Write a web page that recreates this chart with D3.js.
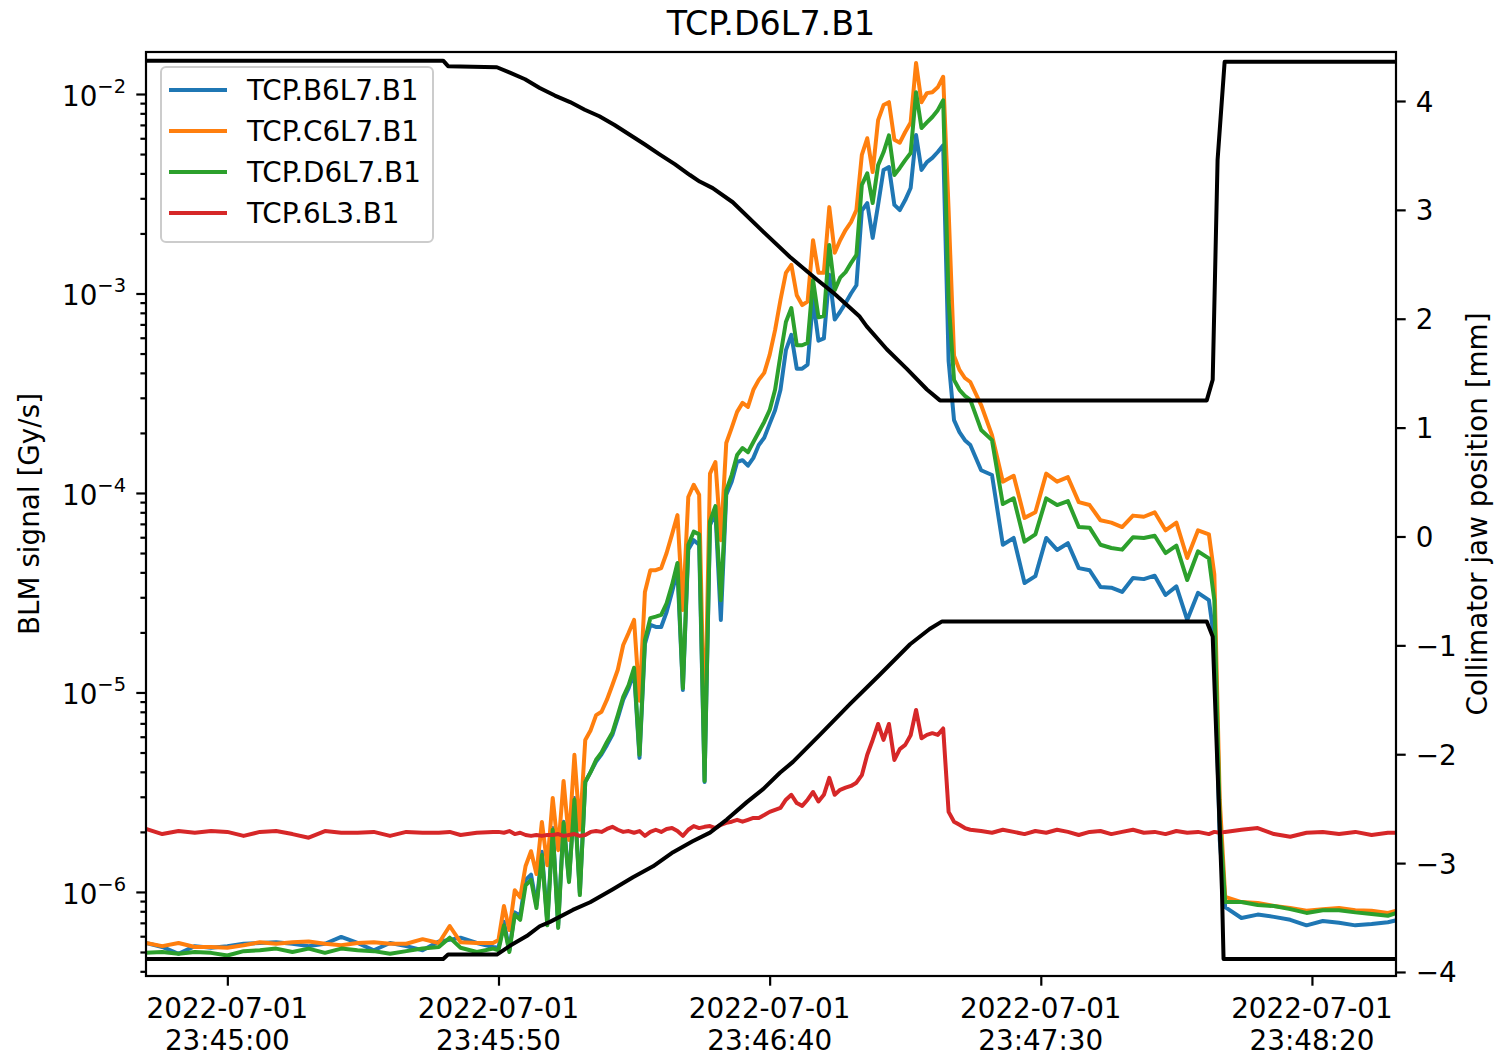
<!DOCTYPE html>
<html>
<head>
<meta charset="utf-8">
<script src="https://cdn.jsdelivr.net/npm/d3@7"></script>
<style>
  body { margin: 0; background: #fff; }
  svg text { font-family: "DejaVu Sans", sans-serif; fill: #000; }
</style>
</head>
<body>
<svg id="chart" width="1496" height="1057"></svg>
<script>
// ---- data ----
const chartTitle = 'TCP.D6L7.B1';
const day = '2022-07-01';
const startClock = '23:44:45';
const endSecond = 230.5;
const xTickClocks = ['23:45:00', '23:45:50', '23:46:40', '23:47:30', '23:48:20'];
const leftTicks = [1e-6, 1e-5, 1e-4, 1e-3, 1e-2];
const rightTicks = [-4, -3, -2, -1, 0, 1, 2, 3, 4];
const seriesNames = ['TCP.B6L7.B1', 'TCP.C6L7.B1', 'TCP.D6L7.B1', 'TCP.6L3.B1'];

// seconds after 23:44:45
const blmSeconds = [
  0, 3, 6, 9, 12, 15, 18, 21, 24, 27, 30, 33, 36, 39, 42, 45, 48, 51, 54, 56, 58, 61, 64,
  65, 66, 67, 68, 69, 70, 71, 72, 73, 74, 75, 76, 77, 78, 79, 80, 81, 82, 83, 84, 85, 86, 87, 88, 89, 90,
  91, 92, 93, 94, 95, 96, 97, 98, 99, 100, 101, 102, 103, 104, 105, 106, 107, 108, 109, 110,
  111, 112, 113, 114, 115, 116, 117, 118, 119, 120, 121, 122, 123, 124, 125, 126, 127, 128, 129, 130,
  131, 132, 133, 134, 135, 136, 137, 138, 139, 140, 141, 142, 143, 144, 145, 146, 147, 148, 149, 150, 151, 152,
  154, 156, 158, 160, 162, 164, 166, 168, 170, 172, 174, 176, 178, 180, 182, 184, 186, 188, 190, 192, 194, 196,
  197, 198, 199, 202, 205, 208, 211, 214, 217, 220, 223, 226, 229, 231
];

const blmB6L7 = [
  5.55e-7, 5.3e-7, 4.9e-7, 5.35e-7, 5.25e-7, 5.35e-7, 5.5e-7, 5.55e-7, 5.6e-7, 5.5e-7, 5.35e-7, 5.5e-7,
  5.95e-7, 5.55e-7, 5.1e-7, 5.55e-7, 5.35e-7, 5.1e-7, 5.65e-7, 5.75e-7, 5.9e-7, 5.55e-7, 5.3e-7,
  5.25e-7, 7.1e-7, 5.1e-7, 7.9e-7, 7.6e-7, 1.15e-6, 1.22e-6, 8.6e-7, 1.59e-6, 7.1e-7, 2.09e-6, 6.8e-7,
  2.25e-6, 1.15e-6, 2.96e-6, 9.9e-7, 3.56e-6, 4.0e-6, 4.5e-6, 4.9e-6, 5.46e-6, 6.13e-6, 7.45e-6, 9.2e-6,
  1.05e-5, 1.27e-5, 4.7e-6, 1.75e-5, 2.18e-5, 2.13e-5, 2.13e-5, 2.53e-5, 3.19e-5, 4.07e-5, 1.03e-5,
  5.2e-5, 5.8e-5, 5.5e-5, 3.56e-6, 6.9e-5, 8.0e-5, 2.31e-5, 9.8e-5, 1.14e-4, 1.43e-4, 1.46e-4,
  1.37e-4, 1.5e-4, 1.74e-4, 1.89e-4, 2.22e-4, 2.6e-4, 3.29e-4, 5.2e-4, 6.2e-4, 4.2e-4, 4.2e-4, 4.4e-4,
  9.3e-4, 5.8e-4, 5.95e-4, 1.24e-3, 7.4e-4, 8.1e-4, 8.95e-4, 1.0e-3, 1.1e-3, 2.6e-3, 2.84e-3, 1.9e-3,
  2.78e-3, 4.16e-3, 4.3e-3, 2.78e-3, 2.62e-3, 2.94e-3, 3.38e-3, 6.23e-3, 4.16e-3, 4.56e-3, 4.78e-3,
  5.12e-3, 5.53e-3, 4.6e-4, 2.32e-4, 2.02e-4, 1.84e-4, 1.74e-4,
  1.3e-4, 1.23e-4, 5.5e-5, 5.95e-5, 3.54e-5, 3.83e-5, 5.95e-5, 5.18e-5, 5.6e-5, 4.2e-5, 4.1e-5,
  3.38e-5, 3.35e-5, 3.19e-5, 3.75e-5, 3.7e-5, 3.85e-5, 3.08e-5, 3.4e-5, 2.31e-5, 3.16e-5, 2.9e-5,
  1.83e-5, 1.82e-6, 8.4e-7, 7.4e-7, 7.7e-7, 7.5e-7, 7.25e-7, 6.8e-7, 7.15e-7, 7.0e-7, 6.8e-7, 6.9e-7, 7.05e-7, 7.25e-7
];

const blmC6L7 = [
  5.55e-7, 5.35e-7, 5.55e-7, 5.3e-7, 5.3e-7, 5.25e-7, 5.4e-7, 5.6e-7, 5.5e-7, 5.6e-7, 5.65e-7, 5.5e-7,
  5.4e-7, 5.55e-7, 5.6e-7, 5.5e-7, 5.5e-7, 5.8e-7, 5.55e-7, 6.75e-7, 5.6e-7, 5.55e-7, 5.55e-7,
  5.75e-7, 8.5e-7, 6.45e-7, 1.02e-6, 9.4e-7, 1.35e-6, 1.6e-6, 1.23e-6, 2.24e-6, 1.36e-6, 2.96e-6, 1.62e-6,
  3.6e-6, 1.82e-6, 4.87e-6, 2.05e-6, 5.78e-6, 6.47e-6, 7.7e-6, 8.0e-6, 9.2e-6, 1.09e-5, 1.3e-5, 1.73e-5,
  1.99e-5, 2.31e-5, 9.1e-6, 3.19e-5, 4.1e-5, 4.1e-5, 4.2e-5, 5.0e-5, 6.2e-5, 7.75e-5, 2.59e-5,
  9.55e-5, 1.1e-4, 9.8e-5, 5.46e-6, 1.25e-4, 1.43e-4, 5.8e-5, 1.78e-4, 2.12e-4, 2.55e-4, 2.83e-4,
  2.7e-4, 3.29e-4, 3.69e-4, 4.0e-4, 4.92e-4, 6.55e-4, 9.3e-4, 1.27e-3, 1.39e-3, 9.8e-4, 8.75e-4, 9.1e-4,
  1.85e-3, 1.27e-3, 1.27e-3, 2.71e-3, 1.6e-3, 1.85e-3, 2.08e-3, 2.28e-3, 2.62e-3, 4.95e-3, 6.0e-3, 4.06e-3,
  7.4e-3, 8.8e-3, 9.1e-3, 5.9e-3, 5.7e-3, 6.45e-3, 7.2e-3, 1.43e-2, 9.1e-3, 1.01e-2, 1.02e-2,
  1.08e-2, 1.22e-2, 2.62e-3, 4.88e-4, 4.14e-4, 3.77e-4, 3.6e-4,
  2.76e-4, 1.95e-4, 1.14e-4, 1.22e-4, 7.5e-5, 8.0e-5, 1.25e-4, 1.14e-4, 1.2e-4, 9.0e-5, 8.7e-5,
  7.3e-5, 7.1e-5, 6.75e-5, 7.7e-5, 7.6e-5, 8.0e-5, 6.5e-5, 7.1e-5, 4.72e-5, 6.5e-5, 6.2e-5,
  3.9e-5, 2.9e-6, 9.45e-7, 8.9e-7, 8.8e-7, 8.5e-7, 8.3e-7, 8.05e-7, 8.2e-7, 8.3e-7, 8.1e-7, 8.05e-7, 7.85e-7, 8.1e-7
];

const blmD6L7 = [
  4.95e-7, 5.0e-7, 4.9e-7, 5.0e-7, 4.95e-7, 4.8e-7, 5.05e-7, 5.1e-7, 5.2e-7, 5.0e-7, 5.2e-7, 4.95e-7,
  5.2e-7, 5.1e-7, 5.05e-7, 4.9e-7, 5.05e-7, 5.2e-7, 5.3e-7, 5.9e-7, 5.25e-7, 5.0e-7, 5.2e-7,
  5.1e-7, 6.8e-7, 5.0e-7, 7.7e-7, 7.25e-7, 1.08e-6, 1.15e-6, 8.3e-7, 1.53e-6, 6.8e-7, 2.05e-6, 6.6e-7,
  2.22e-6, 1.12e-6, 2.9e-6, 9.65e-7, 3.56e-6, 4.0e-6, 4.6e-6, 5.0e-6, 5.65e-6, 6.3e-6, 7.7e-6, 9.5e-6,
  1.09e-5, 1.33e-5, 4.87e-6, 1.83e-5, 2.36e-5, 2.4e-5, 2.45e-5, 2.8e-5, 3.46e-5, 4.46e-5, 1.05e-5,
  5.5e-5, 6.4e-5, 6.2e-5, 3.6e-6, 7.2e-5, 8.6e-5, 2.9e-5, 1.03e-4, 1.23e-4, 1.55e-4, 1.68e-4,
  1.6e-4, 1.8e-4, 2.02e-4, 2.27e-4, 2.6e-4, 3.29e-4, 4.92e-4, 7.2e-4, 8.45e-4, 5.5e-4, 5.5e-4, 5.65e-4,
  1.17e-3, 7.6e-4, 7.7e-4, 1.75e-3, 1.04e-3, 1.2e-3, 1.28e-3, 1.42e-3, 1.56e-3, 3.5e-3, 4.0e-3, 2.84e-3,
  4.4e-3, 5.1e-3, 6.2e-3, 3.93e-3, 4.26e-3, 4.66e-3, 5.06e-3, 1.02e-2, 6.75e-3, 7.2e-3, 7.67e-3,
  8.3e-3, 9.3e-3, 9.2e-4, 3.69e-4, 3.29e-4, 3.07e-4, 2.93e-4,
  2.07e-4, 1.84e-4, 8.8e-5, 9.4e-5, 5.7e-5, 6.2e-5, 9.4e-5, 8.7e-5, 9.1e-5, 6.75e-5, 6.7e-5,
  5.5e-5, 5.3e-5, 5.2e-5, 6.0e-5, 5.95e-5, 6.1e-5, 5.0e-5, 5.45e-5, 3.66e-5, 5.1e-5, 4.7e-5,
  2.9e-5, 2.3e-6, 8.9e-7, 8.9e-7, 8.6e-7, 8.5e-7, 8.2e-7, 7.85e-7, 8.1e-7, 8.1e-7, 7.9e-7, 7.75e-7, 7.6e-7, 7.9e-7
];

const blm6L3 = [
  2.07e-6, 1.95e-6, 2.02e-6, 1.98e-6, 2.02e-6, 2.0e-6, 1.91e-6, 2.0e-6, 2.02e-6, 1.95e-6, 1.87e-6, 2.02e-6,
  1.98e-6, 1.98e-6, 2.0e-6, 1.91e-6, 2.0e-6, 1.98e-6, 1.98e-6, 2.0e-6, 1.93e-6, 1.98e-6, 2.0e-6,
  2.0e-6, 1.98e-6, 2.02e-6, 1.95e-6, 1.98e-6, 1.93e-6, 1.91e-6, 1.93e-6, 1.91e-6, 1.93e-6, 1.93e-6, 1.95e-6,
  1.91e-6, 1.93e-6, 1.95e-6, 1.91e-6, 1.93e-6, 2.0e-6, 2.02e-6, 2.0e-6, 2.07e-6, 2.12e-6, 2.05e-6, 2.0e-6,
  2.02e-6, 1.98e-6, 2.02e-6, 1.91e-6, 2.0e-6, 2.05e-6, 2.0e-6, 2.07e-6, 2.09e-6, 2.02e-6, 1.91e-6,
  2.05e-6, 2.14e-6, 2.09e-6, 2.12e-6, 2.14e-6, 2.09e-6, 2.17e-6, 2.22e-6, 2.25e-6, 2.3e-6, 2.25e-6,
  2.3e-6, 2.35e-6, 2.35e-6, 2.43e-6, 2.52e-6, 2.58e-6, 2.64e-6, 2.9e-6, 3.07e-6, 2.79e-6, 2.7e-6, 2.9e-6,
  3.17e-6, 2.84e-6, 3.07e-6, 3.73e-6, 3.07e-6, 3.25e-6, 3.33e-6, 3.4e-6, 3.53e-6, 3.85e-6, 4.87e-6, 5.78e-6,
  6.95e-6, 5.78e-6, 6.95e-6, 4.59e-6, 5.2e-6, 5.46e-6, 6.1e-6, 8.17e-6, 5.9e-6, 6.13e-6, 6.25e-6,
  6.13e-6, 6.6e-6, 2.52e-6, 2.25e-6, 2.17e-6, 2.09e-6, 2.05e-6,
  2.02e-6, 1.98e-6, 2.05e-6, 2.0e-6, 1.95e-6, 2.02e-6, 1.98e-6, 2.05e-6, 2.0e-6, 1.93e-6, 2.0e-6,
  2.02e-6, 1.95e-6, 2.0e-6, 2.05e-6, 1.98e-6, 2.0e-6, 1.95e-6, 2.02e-6, 1.98e-6, 2.0e-6, 1.95e-6,
  2.0e-6, 1.98e-6, 2.0e-6, 2.05e-6, 2.09e-6, 1.95e-6, 1.89e-6, 1.98e-6, 2.0e-6, 1.95e-6, 2.0e-6, 1.93e-6, 1.98e-6, 1.98e-6
];

// collimator jaws (mm), own sampling
const jawUpSeconds = [0, 54.8, 55.7, 64.7, 67.1, 69.9, 72.6, 75.4, 78.2, 80.9, 83.6, 86.4, 89.2, 92.0, 94.7,
  97.5, 100.3, 102.1, 104.5, 108.2, 113.8, 118.7, 123.7, 126.7, 131.6, 132.9, 136.6, 140.3, 144.0, 146.4,
  195.6, 196.7, 197.6, 198.9, 231];
const jawUp = [4.37, 4.37, 4.32, 4.31, 4.26, 4.20, 4.12, 4.05, 3.99, 3.92, 3.86, 3.78, 3.69, 3.60, 3.51,
  3.42, 3.32, 3.26, 3.20, 3.07, 2.80, 2.57, 2.36, 2.24, 2.02, 1.93, 1.72, 1.54, 1.35, 1.25,
  1.25, 1.44, 3.46, 4.36, 4.36];
const jawLowSeconds = [0, 54.8, 55.7, 64.7, 67.1, 70.2, 72.6, 74.5, 78.7, 81.9, 86.1, 89.8, 93.5, 97.2,
  100.8, 104.0, 107.1, 110.8, 113.8, 116.9, 119.3, 124.3, 129.8, 135.3, 140.9, 144.5, 146.8,
  195.6, 196.7, 198.4, 198.7, 231];
const jawLow = [-3.88, -3.88, -3.84, -3.84, -3.76, -3.67, -3.58, -3.54, -3.43, -3.36, -3.24, -3.13, -3.03, -2.90,
  -2.80, -2.72, -2.60, -2.44, -2.32, -2.17, -2.07, -1.82, -1.54, -1.27, -0.99, -0.85, -0.78,
  -0.78, -0.92, -3.24, -3.88, -3.88];

// ---- layout ----
const M = { left: 146, right: 1396, top: 52, bottom: 976 };
const FS = 27.8;   // 10pt at the figure's dpi
const LW = 4;      // 1.5pt lines
const colors = ['#1f77b4', '#ff7f0e', '#2ca02c', '#d62728'];

const parseT = d3.utcParse('%Y-%m-%d %H:%M:%S');
const start = parseT(`${day} ${startClock}`);
const at = s => new Date(start.getTime() + s * 1000);

const x = d3.scaleUtc().domain([start, at(endSecond)]).range([M.left, M.right]);
const yL = d3.scaleLog().domain([3.79e-7, 0.01624]).range([M.bottom, M.top]);
const yR = d3.scaleLinear().domain([-4.037, 4.45]).range([M.bottom, M.top]);

const svg = d3.select('#chart');
svg.append('defs').append('clipPath').attr('id', 'plot')
  .append('rect').attr('x', M.left).attr('y', M.top)
  .attr('width', M.right - M.left).attr('height', M.bottom - M.top);

// BLM lines
const blm = [blmB6L7, blmC6L7, blmD6L7, blm6L3];
const lineL = d3.line().x(d => x(d[0])).y(d => yL(d[1]));
const gLines = svg.append('g').attr('clip-path', 'url(#plot)');
blm.forEach((vals, i) => {
  gLines.append('path')
    .datum(vals.map((v, k) => [at(blmSeconds[k]), v]))
    .attr('d', lineL)
    .attr('fill', 'none').attr('stroke', colors[i])
    .attr('stroke-width', LW).attr('stroke-linejoin', 'round').attr('stroke-linecap', 'square');
});

// left axis (log)
const gL = svg.append('g').attr('transform', `translate(${M.left},0)`);
gL.call(d3.axisLeft(yL).tickValues(leftTicks).tickSize(9.7).tickFormat(''));
const minor = [];
leftTicks.concat([1e-7]).forEach(base => {
  for (let m = 2; m <= 9; m++) {
    const v = base * m;
    if (v >= yL.domain()[0] && v <= yL.domain()[1]) minor.push(v);
  }
});
gL.append('g').call(d3.axisLeft(yL).tickValues(minor).tickSize(5.6).tickFormat(''));
gL.selectAll('.domain').remove();
gL.selectAll('line').attr('stroke', '#000').attr('stroke-width', 2.2);
gL.selectAll('.tick text').remove();
leftTicks.forEach(v => {
  const t = gL.append('text').attr('x', -20).attr('y', yL(v) + 12)
    .attr('text-anchor', 'end').attr('font-size', FS);
  t.append('tspan').text('10');
  t.append('tspan').attr('dy', -13).attr('font-size', FS * 0.7)
    .text('\u2212' + Math.abs(Math.round(Math.log10(v))));
});

// bottom axis (time)
const gX = svg.append('g').attr('transform', `translate(0,${M.bottom})`);
gX.call(d3.axisBottom(x).tickValues(xTickClocks.map(c => parseT(`${day} ${c}`))).tickSize(9.7).tickFormat(''));
gX.selectAll('.domain').remove();
gX.selectAll('line').attr('stroke', '#000').attr('stroke-width', 2.2);
gX.selectAll('.tick text').remove();
xTickClocks.forEach(c => {
  const px = x(parseT(`${day} ${c}`));
  const t = gX.append('text').attr('text-anchor', 'middle').attr('font-size', FS);
  t.append('tspan').attr('x', px).attr('y', 42).text(day);
  t.append('tspan').attr('x', px).attr('y', 74).text(c);
});

// legend
const lg = svg.append('g');
lg.append('rect').attr('x', 161).attr('y', 67).attr('width', 272).attr('height', 175)
  .attr('rx', 5).attr('fill', '#fff').attr('fill-opacity', 0.8)
  .attr('stroke', '#cccccc').attr('stroke-width', 2);
seriesNames.forEach((name, i) => {
  const yy = 90 + i * 41;
  lg.append('line').attr('x1', 169).attr('x2', 227).attr('y1', yy).attr('y2', yy)
    .attr('stroke', colors[i]).attr('stroke-width', LW);
  lg.append('text').attr('x', 247).attr('y', yy + 10).attr('font-size', FS).text(name);
});

// jaw lines (twin axis, drawn on top)
const lineR = d3.line().x(d => x(d[0])).y(d => yR(d[1]));
const gJaw = svg.append('g').attr('clip-path', 'url(#plot)');
[[jawUpSeconds, jawUp], [jawLowSeconds, jawLow]].forEach(([secs, vals]) => {
  gJaw.append('path')
    .datum(vals.map((v, k) => [at(secs[k]), v]))
    .attr('d', lineR)
    .attr('fill', 'none').attr('stroke', '#000')
    .attr('stroke-width', LW).attr('stroke-linejoin', 'round');
});

// right axis
const gR = svg.append('g').attr('transform', `translate(${M.right},0)`);
gR.call(d3.axisRight(yR).tickValues(rightTicks).tickSize(9.7).tickPadding(10)
  .tickFormat(d => d < 0 ? '\u2212' + Math.abs(d) : String(d)));
gR.selectAll('.domain').remove();
gR.selectAll('line').attr('stroke', '#000').attr('stroke-width', 2.2);
gR.selectAll('.tick text').attr('font-size', FS).attr('font-family', '"DejaVu Sans", sans-serif')
  .attr('fill', '#000').attr('dy', '0.36em');

// frame
svg.append('rect').attr('x', M.left).attr('y', M.top)
  .attr('width', M.right - M.left).attr('height', M.bottom - M.top)
  .attr('fill', 'none').attr('stroke', '#000').attr('stroke-width', 2.2);

// titles
svg.append('text').attr('x', (M.left + M.right) / 2).attr('y', 35)
  .attr('text-anchor', 'middle').attr('font-size', FS * 1.2).text(chartTitle);
svg.append('text').attr('transform', `translate(39,${(M.top + M.bottom) / 2}) rotate(-90)`)
  .attr('text-anchor', 'middle').attr('font-size', FS).text('BLM signal [Gy/s]');
svg.append('text').attr('transform', `translate(1487,${(M.top + M.bottom) / 2}) rotate(-90)`)
  .attr('text-anchor', 'middle').attr('font-size', FS).text('Collimator jaw position [mm]');
</script>
</body>
</html>
